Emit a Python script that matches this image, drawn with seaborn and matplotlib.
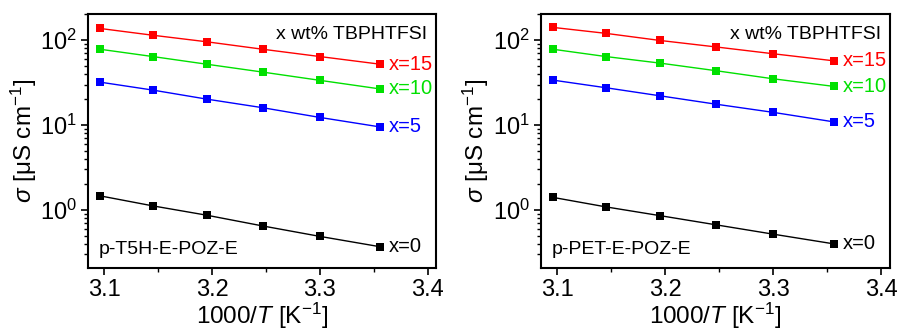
import numpy as np
import pandas as pd
import seaborn as sns
import matplotlib.pyplot as plt
from matplotlib.ticker import LogLocator, MultipleLocator, NullFormatter

# data (1000/T in K^-1, conductivity in uS/cm)
inv_t = [3.096, 3.145, 3.195, 3.247, 3.300, 3.356]

t5h_x15 = [137, 114, 95.5, 78, 64, 52]
t5h_x10 = [78, 64, 52, 42, 33.6, 26.6]
t5h_x5 = [32, 25.8, 20.2, 16, 12.3, 9.5]
t5h_x0 = [1.47, 1.12, 0.87, 0.65, 0.49, 0.37]

pet_x15 = [141, 120, 99, 83, 69, 57]
pet_x10 = [78, 64, 53.6, 43.6, 35, 28.5]
pet_x5 = [33.8, 27.5, 22.1, 17.6, 14.1, 10.9]
pet_x0 = [1.41, 1.09, 0.86, 0.67, 0.52, 0.40]

series_labels = ["x=15", "x=10", "x=5", "x=0"]
series_colors = ["#ff0000", "#00e000", "#0000ff", "#000000"]
panel_names = ["p-T5H-E-POZ-E", "p-PET-E-POZ-E"]
panel_data = [[t5h_x15, t5h_x10, t5h_x5, t5h_x0],
              [pet_x15, pet_x10, pet_x5, pet_x0]]

sns.set_style("ticks")
plt.rcParams['font.family'] = ['Liberation Sans', 'DejaVu Sans']
plt.rcParams['mathtext.fontset'] = 'custom'
plt.rcParams['mathtext.rm'] = 'Liberation Sans'
plt.rcParams['mathtext.it'] = 'Liberation Sans:italic'
plt.rcParams['text.color'] = 'black'
plt.rcParams['axes.labelcolor'] = 'black'
plt.rcParams['axes.edgecolor'] = 'black'
plt.rcParams['xtick.color'] = 'black'
plt.rcParams['ytick.color'] = 'black'

fig = plt.figure(figsize=(9.03, 3.36), dpi=100)
ax1 = fig.add_axes([0.0975, 0.2024, 0.3855, 0.7556])
ax2 = fig.add_axes([0.599, 0.2024, 0.3866, 0.7556])

for ax, name, data in zip([ax1, ax2], panel_names, panel_data):
    for vals, lab, col in zip(data, series_labels, series_colors):
        df = pd.DataFrame({"x": inv_t, "y": vals})
        sns.lineplot(data=df, x="x", y="y", ax=ax, color=col, marker="s",
                     markersize=6, markeredgewidth=0, linewidth=1)
        ax.text(inv_t[-1] + 0.008, vals[-1], lab, color=col, fontsize=14.5,
                va="center", ha="left", clip_on=False)

    ax.set_yscale("log")
    ax.set_xlim(3.085, 3.408)
    ax.set_ylim(0.208, 202)
    ax.xaxis.set_major_locator(MultipleLocator(0.1))
    ax.xaxis.set_minor_locator(MultipleLocator(0.05))
    ax.yaxis.set_major_locator(LogLocator(base=10, numticks=10))
    ax.yaxis.set_minor_locator(LogLocator(base=10, subs=np.arange(2, 10), numticks=10))
    ax.yaxis.set_minor_formatter(NullFormatter())
    ax.tick_params(axis="both", which="major", labelsize=17, length=5, width=1.2, pad=3)
    ax.tick_params(axis="both", which="minor", length=3, width=1)
    for sp in ax.spines.values():
        sp.set_linewidth(1.5)

    ax.set_xlabel("1000/$T$ [K$^{-1}$]", fontsize=17.5, labelpad=0)
    ax.set_ylabel("$\\sigma$ [μS cm$^{-1}$]", fontsize=17.5, labelpad=1)
    ax.text(0.975, 0.955, "x wt% TBPHTFSI", transform=ax.transAxes,
            fontsize=14, ha="right", va="top")
    ax.text(0.03, 0.04, name, transform=ax.transAxes, fontsize=14,
            ha="left", va="bottom")

plt.savefig("out.png", dpi=100)
